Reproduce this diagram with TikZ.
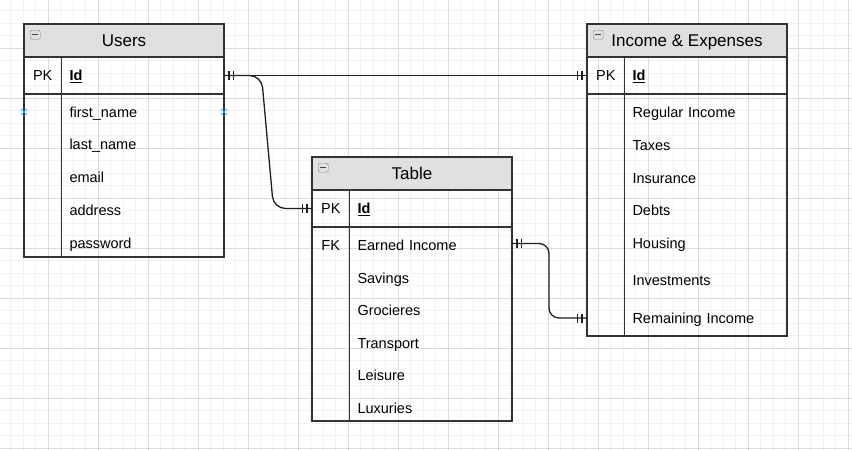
\documentclass[tikz,border=0pt]{standalone}
\usepackage{fontspec}
\setmainfont{Liberation Sans}
\usetikzlibrary{positioning,calc,decorations.markings,shapes.misc}

\definecolor{hdrgray}{HTML}{E0E0E0}
\definecolor{boxline}{HTML}{333333}
\definecolor{relline}{HTML}{1F1F1F}
\definecolor{hoverblue}{HTML}{29B6F2}
\definecolor{gridminor}{HTML}{F2F2F2}
\definecolor{gridmajor}{HTML}{DCDCDC}

\newcommand\fldfont{\fontsize{14.5}{17}\selectfont}
\newcommand\hdrfont{\fontsize{17}{20}\selectfont}

\begin{document}
\begin{tikzpicture}[
  x=1pt, y=-1pt,
  hdr/.style={draw=boxline, fill=hdrgray, line width=1.3pt, minimum width=200pt, minimum height=33pt,
    inner sep=0pt, outer sep=0pt, font=\hdrfont, text height=12.2pt, text depth=0pt},
  rowbox/.style={draw=boxline, line width=1.3pt, minimum width=200pt, inner sep=0pt, outer sep=0pt},
  keycell/.style={anchor=west, minimum width=37.5pt, minimum height=33pt, inner sep=0pt, outer sep=0pt,
    font=\fldfont, text height=10.4pt, text depth=0pt},
  fld/.style={anchor=west, font=\fldfont, text width=146.5pt, align=left, inner xsep=8pt, inner ysep=0pt,
    outer sep=0pt, text height=10pt, text depth=0pt},
  divider/.style={draw=boxline, line width=1.3pt},
  minusbox/.style={anchor=north west, draw=black!50, fill=black!12, rounded corners=1.5pt, minimum width=10pt,
    minimum height=9pt, inner sep=0pt,
    path picture={\draw[black!75, line width=1.3pt] ([xshift=-2.8pt]path picture bounding box.center)
      -- ([xshift=2.8pt]path picture bounding box.center);}},
  xmark/.style={cross out, draw=hoverblue, line width=0.9pt, minimum size=5pt, inner sep=0pt},
  rel/.style={draw=relline, line width=1.3pt, postaction={decorate},
    decoration={markings,
      mark=at position 5pt with {\draw[relline, line width=1.1pt] (0,-4.5pt) -- (0,4.5pt);},
      mark=at position 9.5pt with {\draw[relline, line width=1.1pt] (0,-4.5pt) -- (0,4.5pt);},
      mark=at position -5pt with {\draw[relline, line width=1.1pt] (0,-4.5pt) -- (0,4.5pt);},
      mark=at position -9.5pt with {\draw[relline, line width=1.1pt] (0,-4.5pt) -- (0,4.5pt);}}}
]
\useasboundingbox (0,0) rectangle (852,450);

% grid
\foreach \i in {0,...,68}
  \draw[gridminor, line width=0.8pt] ({-1.7+12.5*\i},0) -- ({-1.7+12.5*\i},450);
\foreach \i in {0,...,36}
  \draw[gridminor, line width=0.8pt] (0,{-1.7+12.5*\i}) -- (852,{-1.7+12.5*\i});
\foreach \i in {0,...,17}
  \draw[gridmajor, line width=0.8pt] ({-1.7+50*\i},0) -- ({-1.7+50*\i},450);
\foreach \i in {0,...,9}
  \draw[gridmajor, line width=0.8pt] (0,{-1.7+50*\i}) -- (852,{-1.7+50*\i});

% Users
\node[hdr] (usersHead) at (124,40.5) {Users};
\node[minusbox] (usersMin) at ([xshift=6pt, yshift=-6pt]usersHead.north west) {};
\node[rowbox, minimum height=37pt, below=0pt of usersHead] (usersPK) {};
\node[rowbox, minimum height=163pt, below=0pt of usersPK] (usersBody) {};
\node[keycell] (usersKey) at (usersPK.west) {PK};
\node[fld] (usersId) at (usersKey.east) {\underline{\textbf{Id}}};
\draw[divider] (usersKey.east |- usersPK.north) -- (usersKey.east |- usersBody.south);
\foreach \f [count=\i] in {first\_name, last\_name, email, address, password}
  \node[fld] (users-\i) at (61.5,{112+32.75*(\i-1)}) {\f};
\node[xmark] (usersHoverL) at (usersBody.west |- users-1) {};
\node[xmark] (usersHoverR) at (usersBody.east |- users-1) {};

% Income & Expenses
\node[hdr] (incomeHead) at (687,40.5) {Income \& Expenses};
\node[minusbox] (incomeMin) at ([xshift=6pt, yshift=-6pt]incomeHead.north west) {};
\node[rowbox, minimum height=37pt, below=0pt of incomeHead] (incomePK) {};
\node[rowbox, minimum height=242pt, below=0pt of incomePK] (incomeBody) {};
\node[keycell] (incomeKey) at (incomePK.west) {PK};
\node[fld] (incomeId) at (incomeKey.east) {\underline{\textbf{Id}}};
\draw[divider] (incomeKey.east |- incomePK.north) -- (incomeKey.east |- incomeBody.south);
\foreach \y/\f [count=\i] in {112/Regular Income, 145/Taxes, 178/Insurance, 210/Debts,
    243/Housing, 280/Investments, 318/Remaining Income}
  \node[fld] (income-\i) at (624.5,\y) {\f};

% Table
\node[hdr] (tableHead) at (412,173.5) {Table};
\node[minusbox] (tableMin) at ([xshift=6pt, yshift=-6pt]tableHead.north west) {};
\node[rowbox, minimum height=37pt, below=0pt of tableHead] (tablePK) {};
\node[rowbox, minimum height=194pt, below=0pt of tablePK] (tableBody) {};
\node[keycell] (tableKey) at (tablePK.west) {PK};
\node[fld] (tableId) at (tableKey.east) {\underline{\textbf{Id}}};
\draw[divider] (tableKey.east |- tablePK.north) -- (tableKey.east |- tableBody.south);
\foreach \y/\f [count=\i] in {245.5/Earned Income, 278/Savings, 310.5/Grocieres, 343/Transport,
    375.5/Leisure, 408/Luxuries}
  \node[fld] (table-\i) at (349.5,\y) {\f};
\node[keycell] (tableFK) at (tableBody.west |- table-1) {FK};

% relations
\draw[rel] (usersId.east) -- (incomeKey.west);
\draw[rel, rounded corners=12pt] (usersId.east) -- ++(37.5,0) -- ([xshift=-38.5pt]tableKey.west) -- (tableKey.west);
\draw[rel, rounded corners=10pt] ([yshift=2pt]table-1.east) -- ++(37,0) |- (incomeBody.west |- income-7);
\end{tikzpicture}
\end{document}
